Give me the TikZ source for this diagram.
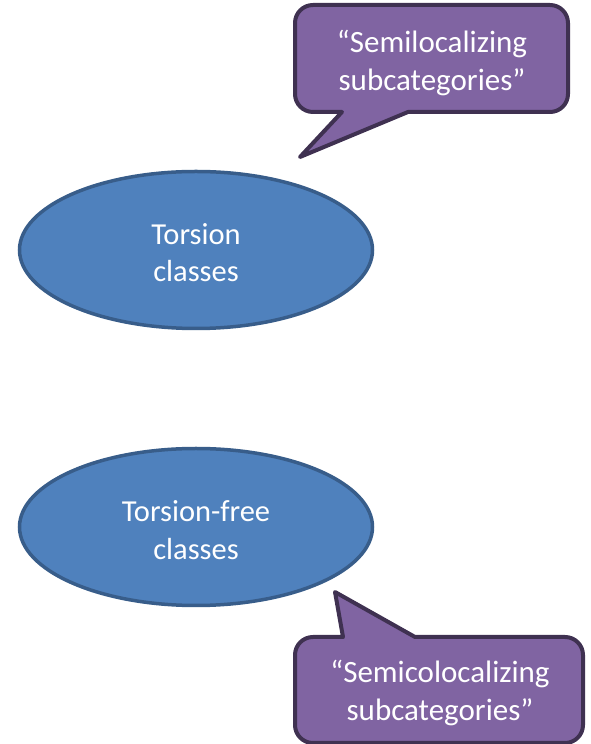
\documentclass[tikz,border=0pt]{standalone}
\usepackage{fontspec}
\setmainfont{Carlito}
\usetikzlibrary{shapes.geometric}
\definecolor{ellfill}{HTML}{4F81BD}
\definecolor{elldraw}{HTML}{385D8A}
\definecolor{calfill}{HTML}{8064A2}
\definecolor{caldraw}{HTML}{3F3151}
\tikzset{
  cls/.style={ellipse, fill=ellfill, draw=elldraw, line width=3.5pt,
    minimum width=353pt, minimum height=157pt, inner sep=0pt},
  clstext/.style={text=white, align=center, inner sep=0pt, font=\fontsize{30.5}{37.5}\selectfont},
  callout/.style={fill=calfill, draw=caldraw, line width=4pt, line join=round},
  callouttext/.style={text=white, align=center, inner sep=0pt, font=\fontsize{31}{38}\selectfont}
}
\begin{document}
\begin{tikzpicture}[x=1pt,y=1pt]
\useasboundingbox (0,0) rectangle (590,744);
% ellipses
\node[cls] (tors) at (196,494) {};
\node[clstext] (torslabel) at ([yshift=-2.5pt]tors.center) {Torsion\\classes};
\node[cls] (tfree) at (196,217) {};
\node[clstext] (tfreelabel) at ([yshift=-3pt]tfree.center) {Torsion-free\\classes};
% top callout
\draw[callout] (313,739) -- (550,739) arc[start angle=90,end angle=0,radius=18]
  -- (568,650) arc[start angle=0,end angle=-90,radius=18]
  -- (408,632) -- (300,587) -- (342,632) -- (313,632)
  arc[start angle=270,end angle=180,radius=18]
  -- (295,721) arc[start angle=180,end angle=90,radius=18] -- cycle;
\node[callouttext] (semiloc) at (432,681) {“Semilocalizing\\subcategories”};
% bottom callout
\draw[callout] (313,107) -- (343,107) -- (335,152) -- (415,107) -- (565,107)
  arc[start angle=90,end angle=0,radius=18]
  -- (583,19) arc[start angle=0,end angle=-90,radius=18]
  -- (313,1) arc[start angle=270,end angle=180,radius=18]
  -- (295,89) arc[start angle=180,end angle=90,radius=18] -- cycle;
\node[callouttext] (semicoloc) at (440,51) {“Semicolocalizing\\subcategories”};
\end{tikzpicture}
\end{document}
